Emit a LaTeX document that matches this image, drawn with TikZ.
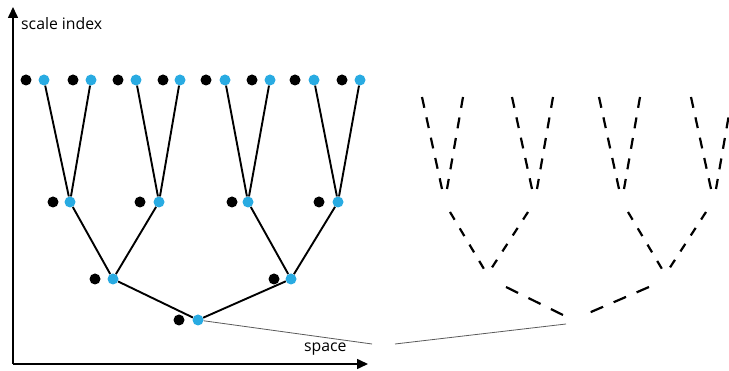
\documentclass[tikz,border=0pt]{standalone}
\usepackage{fontspec}
\setmainfont{Open Sans}
\usetikzlibrary{arrows.meta}
\definecolor{nodeblue}{RGB}{41,171,226}
\definecolor{thingray}{RGB}{90,90,90}
\tikzset{
  bdot/.style={circle,fill=black,inner sep=0pt,minimum size=11pt},
  cdot/.style={circle,fill=nodeblue,inner sep=0pt,minimum size=11pt},
  edge/.style={line width=1.9pt,black},
  axis/.style={line width=1.6pt,-{Triangle[length=11pt,width=10pt]}},
  lbl/.style={font=\fontsize{15.8}{18}\selectfont,inner sep=0pt},
  proj/.style={line width=0.8pt,thingray},
  dashA/.style={line width=2.2pt,dash pattern=on 11pt off 9.8pt},
  dashB/.style={line width=2.2pt,dash pattern=on 9pt off 10pt},
  dashC/.style={line width=2.2pt,dash pattern=on 13.5pt off 11.5pt},
}
\begin{document}
\begin{tikzpicture}[x=1pt,y=-1pt]
\clip (0,0) rectangle (729,371);

% axes
\coordinate (org) at (13,364);
\coordinate (ytip) at (13,7);
\coordinate (xtip) at (368,364);
\draw[axis] (org) -- (ytip);
\draw[axis] (org) -- (xtip);
\node[lbl,anchor=base west] (ylabel) at (21,30) {scale index};
\node[lbl,anchor=base west] (xlabel) at (304,352) {space};

% finest scale: pairs of coefficients
\foreach \i/\xb/\xc in {1/26/44,2/73/91,3/118/136,4/163/180,5/206/225,6/252/270,7/295/314,8/342/360}{
  \node[bdot] (k1\i) at (\xb,80) {};
  \node[cdot] (c1\i) at (\xc,80) {};
}
% second scale
\foreach \i/\xb/\xc in {1/53/70,2/140/159,3/232/248,4/319/338}{
  \node[bdot] (k2\i) at (\xb,202) {};
  \node[cdot] (c2\i) at (\xc,202) {};
}
% third scale
\foreach \i/\xb/\xc in {1/95/113,2/274/291}{
  \node[bdot] (k3\i) at (\xb,279) {};
  \node[cdot] (c3\i) at (\xc,279) {};
}
% coarsest scale
\node[bdot] (k41) at (179,320) {};
\node[cdot] (c41) at (198,320) {};

% tree edges
\draw[edge] (c11) -- (c21) -- (c12);
\draw[edge] (c13) -- (c22) -- (c14);
\draw[edge] (c15) -- (c23) -- (c16);
\draw[edge] (c17) -- (c24) -- (c18);
\draw[edge] (c21) -- (c31) -- (c22);
\draw[edge] (c23) -- (c32) -- (c24);
\draw[edge] (c31) -- (c41) -- (c32);

% projection lines
\coordinate (p1) at (372,344);
\coordinate (p2) at (395,344);
\coordinate (p3) at (566,324);
\draw[proj] (c41) -- (p1);
\draw[proj] (p2) -- (p3);

% dashed tree, finest level
\foreach \xl/\xr in {422/463,512/553,599/640,691/732}{
  \draw[dashA] (\xl,97) -- ++(20,92);
  \draw[dashA] (\xr,97) -- ++(-16,92);
}
% dashed tree, second level
\foreach \xl/\xr in {450/528,628/706}{
  \draw[dashB] (\xl,212) -- ++(34,57);
  \draw[dashB] (\xr,212) -- ++(-37,57);
}
% dashed tree, third level
\draw[dashC] (506,287) -- (563,315);
\draw[dashC] (649,287) -- (584,315);
\end{tikzpicture}
\end{document}
